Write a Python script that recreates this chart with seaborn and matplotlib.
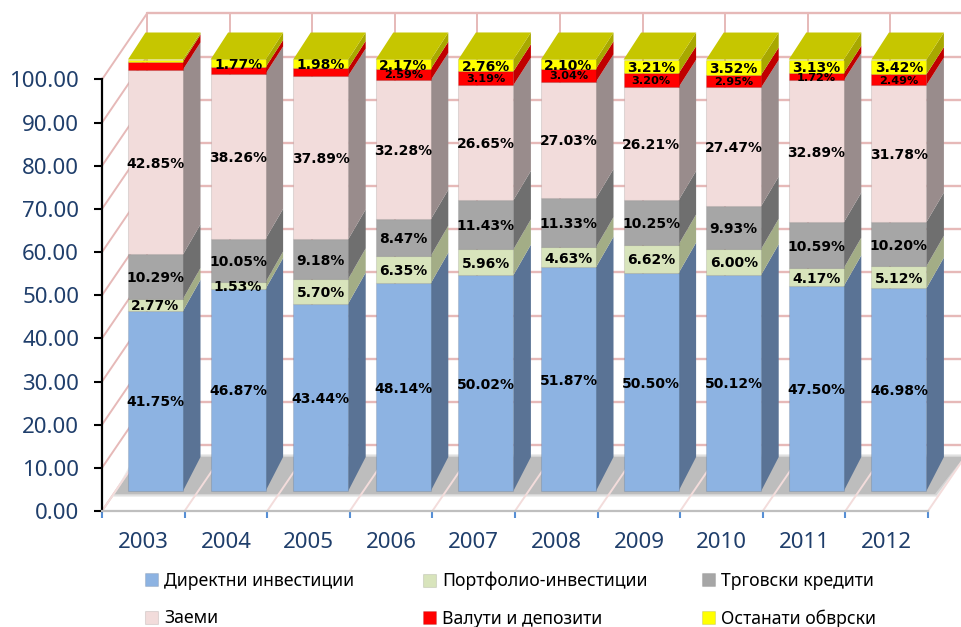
import numpy as np
import pandas as pd
import matplotlib
matplotlib.use("Agg")
import matplotlib.pyplot as plt
import matplotlib.transforms as mtransforms
import seaborn as sns

# values (percent of total)
years = ["2003", "2004", "2005", "2006", "2007", "2008", "2009", "2010", "2011", "2012"]
direct = [41.75, 46.87, 43.44, 48.14, 50.02, 51.87, 50.50, 50.12, 47.50, 46.98]
portfolio = [2.77, 1.53, 5.70, 6.35, 5.96, 4.63, 6.62, 6.00, 4.17, 5.12]
trade = [10.29, 10.05, 9.18, 8.47, 11.43, 11.33, 10.25, 9.93, 10.59, 10.20]
loans = [42.85, 38.26, 37.89, 32.28, 26.65, 27.03, 26.21, 27.47, 32.89, 31.78]
currency = [1.85, 1.52, 1.81, 2.59, 3.19, 3.04, 3.20, 2.95, 1.72, 2.49]
other = [0.49, 1.77, 1.98, 2.17, 2.76, 2.10, 3.21, 3.52, 3.13, 3.42]

names = ["Директни инвестиции", "Портфолио-инвестиции", "Трговски кредити",
         "Заеми", "Валути и депозити", "Останати обврски"]
series = [direct, portfolio, trade, loans, currency, other]
front_colors = ["#8DB3E2", "#D8E4BC", "#A6A6A6", "#F2DCDB", "#FF0000", "#FFFF00"]
side_colors = ["#5A7395", "#A3AD86", "#6F6F6F", "#998C8C", "#C00000", "#A8A800"]
yticks = np.arange(0, 101, 10)

# the 2003 top two and the 2004/2005 red segment carry no label in the original
no_label = {(4, 0), (5, 0), (4, 1), (4, 2)}

df = pd.DataFrame({"year": years})
for name, values in zip(names, series):
    df[name] = values

sns.set_theme(style="white")
plt.rcParams["font.family"] = ["Noto Sans", "DejaVu Sans"]

fig = plt.figure(figsize=(9.62, 6.27), dpi=100)
ax = fig.add_axes([102 / 962, (627 - 511) / 627, 826 / 962, 431.5 / 627])

# pixels per data unit, for the fake 3D depth
px_x = 82.6
px_y = 4.315
wall_dx = 45 / px_x
wall_dy = 66 / px_y
pink = "#E6B9B8"

# floor shadow, soft edge by stacking
for grow, col in [(3, "#EDEDED"), (1.5, "#D4D4D4"), (0, "#BDBDBD")]:
    fx = np.array([115 - grow, 935 + grow, 964 + grow, 139 - grow])
    fy = np.array([494 + grow, 494 + grow, 457 - grow, 457 - grow])
    ax.fill((fx - 102) / px_x - 0.5, (511 - fy) / px_y, color=col, lw=0, zorder=1.5, clip_on=False)

# back wall and side wall
for t in yticks:
    ax.plot([-0.5 + wall_dx, 9.5 + wall_dx], [t + wall_dy, t + wall_dy], color=pink, lw=1.7, zorder=1, clip_on=False)
    ax.plot([-0.5, -0.5 + wall_dx], [t, t + wall_dy], color=pink, lw=1.4, zorder=1, clip_on=False)
for k in np.arange(-0.5, 10):
    ax.plot([k + wall_dx, k + wall_dx], [wall_dy, 100 + wall_dy], color=pink, lw=1.4, zorder=1, clip_on=False)
    ax.plot([k, k + wall_dx], [0, wall_dy], color="#F3DCDB", lw=1.4, zorder=1.6, clip_on=False)

# front faces through seaborn
bar_w = 0.666
cum = np.zeros(len(years))
handles = []
for i, name in enumerate(names):
    sns.barplot(data=df, x="year", y=name, bottom=cum, color=front_colors[i], saturation=1,
                width=bar_w, errorbar=None, label=name, legend=False, ax=ax, zorder=4, clip_on=False)
    handles.append(ax.containers[-1].patches[0])
    cum = cum + np.array(series[i])
if ax.get_legend() is not None:
    ax.get_legend().remove()

# move the fronts into the middle of the floor depth
front = mtransforms.offset_copy(ax.transData, fig=fig, x=12.2, y=20, units="dots")
for cont in ax.containers:
    for p in cont.patches:
        p.set_transform(front)
        p.set_edgecolor((0, 0, 0, 0.1))
        p.set_linewidth(0.8)


def back_offset(v):
    # depth shrinks a little with height, as in the perspective of the original
    return (34 - 7 * v / 100) / px_y


side_dx = 17.5 / px_x
cum = np.zeros(len(years))
for i, values in enumerate(series):
    for c in range(len(years)):
        lo, hi = cum[c], cum[c] + values[c]
        x0 = c + bar_w / 2
        ax.fill([x0, x0 + side_dx, x0 + side_dx, x0],
                [lo, lo + back_offset(lo), hi + back_offset(hi), hi],
                color=side_colors[i], lw=0, zorder=3, clip_on=False, transform=front)
        if (i, c) in no_label:
            continue
        size = 8.1 if i == 4 else 10
        ax.text(c, lo + values[c] / 2, f"{values[c]:.2f}%", transform=front, ha="center", va="center_baseline",
                fontsize=size, fontweight="bold", family="DejaVu Sans", color="black", zorder=6, clip_on=False)
    cum = cum + np.array(values)

# top caps
for c, top in enumerate(cum):
    x0 = c - bar_w / 2
    x1 = c + bar_w / 2
    ax.fill([x0, x1, x1 + side_dx, x0 + side_dx], [top, top, top + back_offset(top), top + back_offset(top)],
            color="#C6C600", lw=0, zorder=5, clip_on=False, transform=front)

ax.set_xlim(-0.5, 9.5)
ax.set_ylim(0, 100)
ax.set_xlabel("")
ax.set_ylabel("")
ax.set_yticks(yticks)
ax.set_yticklabels([f"{t:.2f}" for t in yticks])
ax.set_xticks(np.arange(-0.5, 10), minor=True)
ax.tick_params(axis="x", which="minor", bottom=True, length=5, width=1.5, color="#558ED5")
ax.tick_params(axis="x", which="major", bottom=False, pad=9, labelsize=16, labelcolor="#1F3E6B")
ax.tick_params(axis="y", left=True, length=5.5, width=1.5, color="black", pad=11, labelsize=16, labelcolor="#1F3E6B")
for lab in ax.get_yticklabels():
    lab.set_verticalalignment("center_baseline")
sns.despine(ax=ax, top=True, right=True)
ax.spines["left"].set_color("black")
ax.spines["left"].set_linewidth(1.6)
ax.spines["bottom"].set_color("#BFBFBF")
ax.spines["bottom"].set_linewidth(1.6)
ax.patch.set_alpha(0)

# one legend per column so each column starts where the original does
col_left = [145, 423, 702]
for col, left in enumerate(col_left):
    picks = [col, col + 3]
    fig.legend([handles[j] for j in picks], [names[j] for j in picks], frameon=False,
               loc="upper left", bbox_to_anchor=(left / 962, 1 - 572 / 627),
               fontsize=12.7, handlelength=0.75, handleheight=0.75, handletextpad=0.35,
               labelspacing=1.1, borderpad=0, borderaxespad=0, labelcolor="black")

fig.savefig("out.png", dpi=100)
